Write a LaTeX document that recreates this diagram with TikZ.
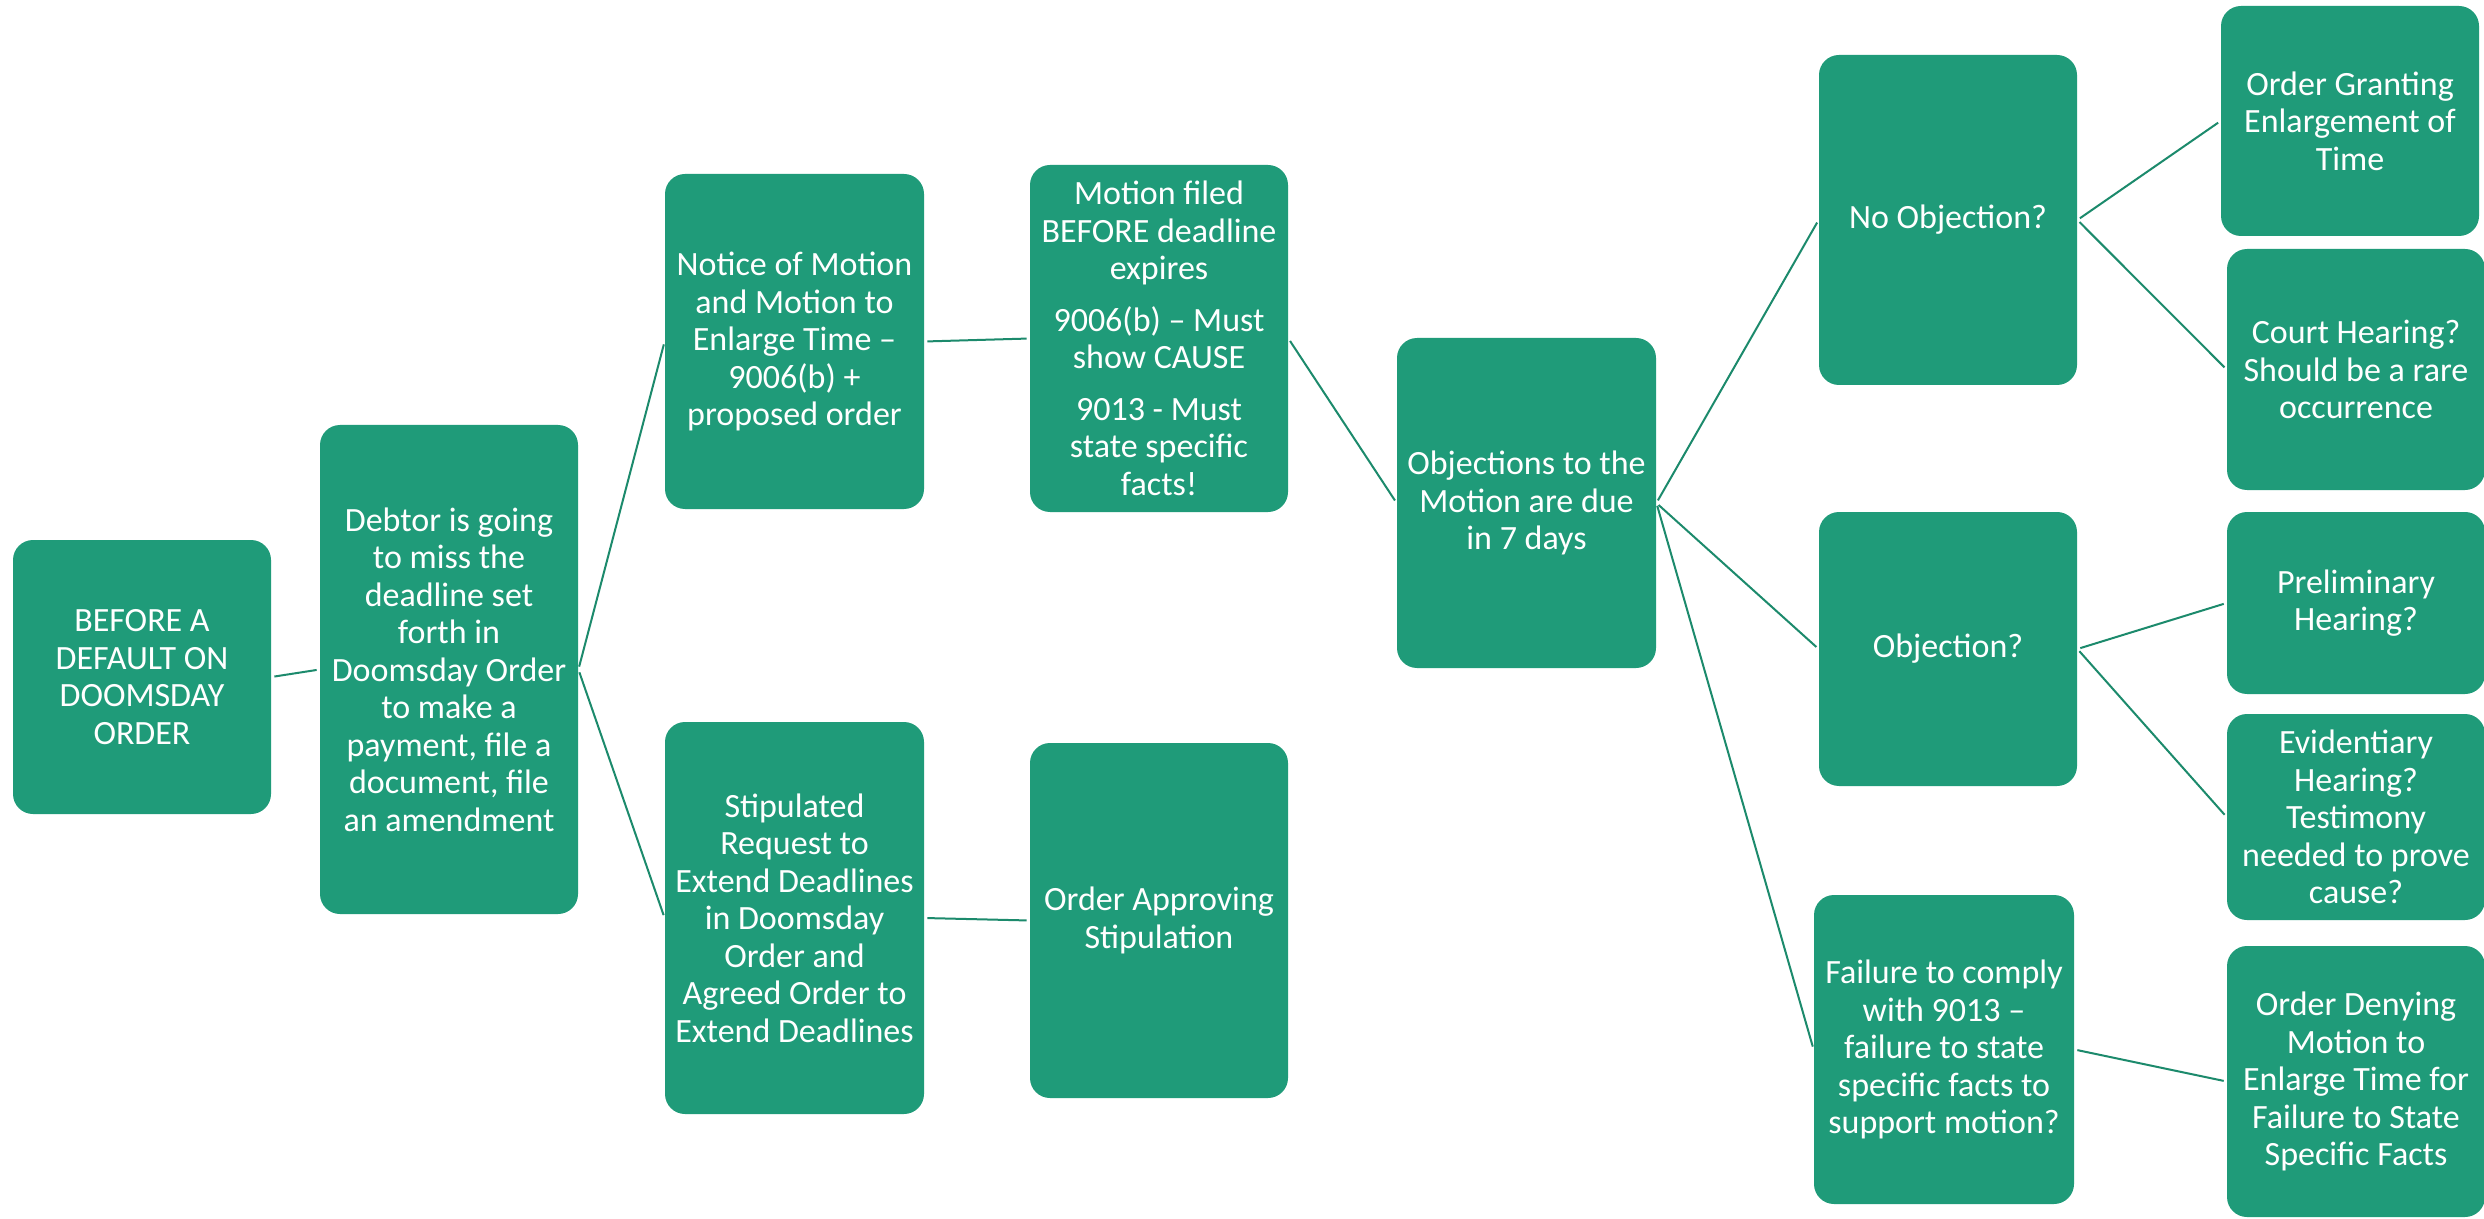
\documentclass[tikz,border=0pt]{standalone}
\usepackage{fontspec}
\setmainfont{Carlito}
\definecolor{boxgreen}{RGB}{31,155,121}
\definecolor{linegreen}{RGB}{28,138,108}
\begin{document}
\begin{tikzpicture}[x=0.5pt,y=-0.5pt,
  box/.style={fill=boxgreen, rounded corners=10pt, text=white, align=center,
    inner sep=0pt, font=\fontsize{17}{18.75}\selectfont},
  conn/.style={draw=linegreen, line width=1pt, shorten >=1.5pt, shorten <=1.5pt}]
\fill[white] (0,0) rectangle (2484,1219);
\useasboundingbox (0,0) rectangle (2484,1219);

\node[box, minimum width=129pt, minimum height=137pt] (before) at (142,677)
  {BEFORE A\\DEFAULT ON\\DOOMSDAY\\ORDER};
\node[box, minimum width=129pt, minimum height=244.5pt] (debtor) at (449,669.5)
  {Debtor is going\\to miss the\\deadline set\\forth in\\Doomsday Order\\to make a\\payment, file a\\document, file\\an amendment};
\node[box, minimum width=129.5pt, minimum height=167.5pt] (notice) at (794.5,341.5)
  {Notice of Motion\\and Motion to\\Enlarge Time –\\9006(b) +\\proposed order};
\node[box, minimum width=129.5pt, minimum height=196pt] (stip) at (794.5,918)
  {Stipulated\\Request to\\Extend Deadlines\\in Doomsday\\Order and\\Agreed Order to\\Extend Deadlines};
\node[box, minimum width=129pt, minimum height=173.5pt] (motion) at (1159,338.5)
  {Motion filed\\BEFORE deadline\\expires\\[7pt]9006(b) – Must\\show CAUSE\\[7pt]9013 - Must\\state specific\\facts!};
\node[box, minimum width=129pt, minimum height=177.5pt] (orderapp) at (1159,920.5)
  {Order Approving\\Stipulation};
\node[box, minimum width=129.5pt, minimum height=165pt] (objdue) at (1526.5,503)
  {Objections to the\\Motion are due\\in 7 days};
\node[box, minimum width=129pt, minimum height=165pt] (noobj) at (1948,220)
  {No Objection?};
\node[box, minimum width=129pt, minimum height=137pt] (obj) at (1948,649)
  {Objection?};
\node[box, minimum width=130pt, minimum height=154.5pt] (failure) at (1944,1049.5)
  {Failure to comply\\with 9013 –\\failure to state\\specific facts to\\support motion?};
\node[box, minimum width=129pt, minimum height=115pt] (granting) at (2350,121)
  {Order Granting\\Enlargement of\\Time};
\node[box, minimum width=129pt, minimum height=120.5pt] (court) at (2356,369.5)
  {Court Hearing?\\Should be a rare\\occurrence};
\node[box, minimum width=129pt, minimum height=91pt] (prelim) at (2356,603)
  {Preliminary\\Hearing?};
\node[box, minimum width=129pt, minimum height=103pt] (evid) at (2356,817)
  {Evidentiary\\Hearing?\\Testimony\\needed to prove\\cause?};
\node[box, minimum width=129pt, minimum height=135.5pt] (denying) at (2356,1081.5)
  {Order Denying\\Motion to\\Enlarge Time for\\Failure to State\\Specific Facts};

\draw[conn] (before.east) -- (debtor.west);
\draw[conn] (debtor.east) -- (notice.west);
\draw[conn] (debtor.east) -- (stip.west);
\draw[conn] (notice.east) -- (motion.west);
\draw[conn] (stip.east) -- (orderapp.west);
\draw[conn] (motion.east) -- (objdue.west);
\draw[conn] (objdue.east) -- (noobj.west);
\draw[conn] (objdue.east) -- (obj.west);
\draw[conn] (objdue.east) -- (failure.west);
\draw[conn] (noobj.east) -- (granting.west);
\draw[conn] (noobj.east) -- (court.west);
\draw[conn] (obj.east) -- (prelim.west);
\draw[conn] (obj.east) -- (evid.west);
\draw[conn] (failure.east) -- (denying.west);
\end{tikzpicture}
\end{document}
